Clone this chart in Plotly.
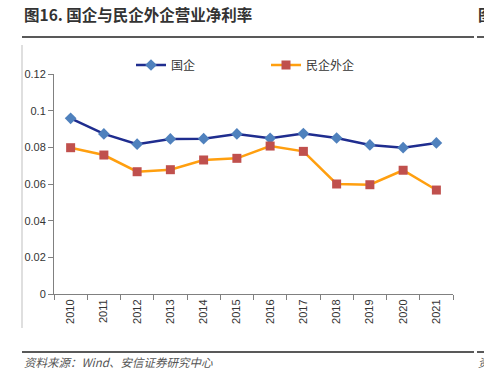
import plotly.graph_objects as go

years = [str(y) for y in range(2010, 2022)]
soe = [0.0958, 0.0873, 0.0817, 0.0846, 0.0847, 0.0873, 0.0849, 0.0875, 0.0851, 0.0813, 0.0798, 0.0824]
private_foreign = [0.0798, 0.0758, 0.0667, 0.0678, 0.0731, 0.0740, 0.0807, 0.0778, 0.0600, 0.0596, 0.0675, 0.0567]
y_ticks = [0, 0.02, 0.04, 0.06, 0.08, 0.1, 0.12]
y_tick_text = ["0", "0.02", "0.04", "0.06", "0.08", "0.1", "0.12"]

L, R, T, B = 54, 453, 74, 294
W, H = 484, 390


def px(x):
    return (x - L) / (R - L)


def py(y):
    return (B - y) / (B - T)


fig = go.Figure()
fig.add_trace(go.Scatter(
    x=years, y=soe, name="国企", mode="lines+markers",
    line=dict(color="#1F2D8F", width=2.5),
    marker=dict(symbol="diamond", size=9, color="#4F81BD"),
))
fig.add_trace(go.Scatter(
    x=years, y=private_foreign, name="民企外企", mode="lines+markers",
    line=dict(color="#FF9F0F", width=2.5),
    marker=dict(symbol="square", size=9, color="#C0504D"),
))

fig.update_layout(
    width=W, height=H,
    margin=dict(l=L, r=W - R, t=T, b=H - B),
    paper_bgcolor="white", plot_bgcolor="white",
    font=dict(family="Liberation Sans, Arial, Noto Sans CJK SC", size=11, color="#333333"),
    showlegend=True,
    legend=dict(orientation="h", x=px(266), xanchor="center", y=py(65), yanchor="middle",
                font=dict(family="Noto Sans CJK SC", size=12, color="#333333"),
                entrywidth=90, entrywidthmode="pixels", bgcolor="rgba(0,0,0,0)"),
    xaxis=dict(type="category", showgrid=False, showline=True, linecolor="#808080", linewidth=1,
               ticks="outside", ticklen=5, tickcolor="#808080", tickson="boundaries",
               tickangle=-90, tickfont=dict(size=11, color="#333333"), range=[-0.5, 11.5]),
    yaxis=dict(range=[0, 0.12], tickvals=y_ticks, ticktext=y_tick_text, showgrid=False,
               showline=True, linecolor="#808080", linewidth=1, ticks="outside", ticklen=5,
               tickcolor="#808080", zeroline=False, tickfont=dict(size=11, color="#333333")),
)

shapes = [
    dict(type="line", xref="paper", yref="paper", x0=px(22), x1=px(474), y0=py(37), y1=py(37),
         line=dict(color="#222222", width=1.5)),
    dict(type="line", xref="paper", yref="paper", x0=px(477), x1=px(484), y0=py(37), y1=py(37),
         line=dict(color="#222222", width=1.5)),
    dict(type="line", xref="paper", yref="paper", x0=px(22), x1=px(22), y0=py(45), y1=py(328),
         line=dict(color="#BFBFBF", width=1)),
    dict(type="line", xref="paper", yref="paper", x0=px(22), x1=px(474), y0=py(352), y1=py(352),
         line=dict(color="#222222", width=1.5)),
    dict(type="line", xref="paper", yref="paper", x0=px(477), x1=px(484), y0=py(352), y1=py(352),
         line=dict(color="#222222", width=1.5)),
]
fig.update_layout(shapes=shapes)

fig.add_annotation(text="<b>图16. 国企与民企外企营业净利率</b>", xref="paper", yref="paper",
                   x=px(22), y=py(14), xanchor="left", yanchor="middle", showarrow=False,
                   font=dict(family="Noto Sans CJK SC", size=15.5, color="#333333"))
fig.add_annotation(text="<b>图</b>", xref="paper", yref="paper",
                   x=px(476), y=py(14), xanchor="left", yanchor="middle", showarrow=False,
                   font=dict(family="Noto Sans CJK SC", size=15.5, color="#333333"))
fig.add_annotation(text="<i>资料来源：Wind、安信证券研究中心</i>", xref="paper", yref="paper",
                   x=px(22), y=py(362), xanchor="left", yanchor="middle", showarrow=False,
                   font=dict(family="Noto Sans CJK SC", size=11.5, color="#555555"))
fig.add_annotation(text="<i>资</i>", xref="paper", yref="paper",
                   x=px(476), y=py(362), xanchor="left", yanchor="middle", showarrow=False,
                   font=dict(family="Noto Sans CJK SC", size=11.5, color="#555555"))

fig.write_html("out.html", config={"displayModeBar": False},
               post_script="document.body.style.margin='0';")
